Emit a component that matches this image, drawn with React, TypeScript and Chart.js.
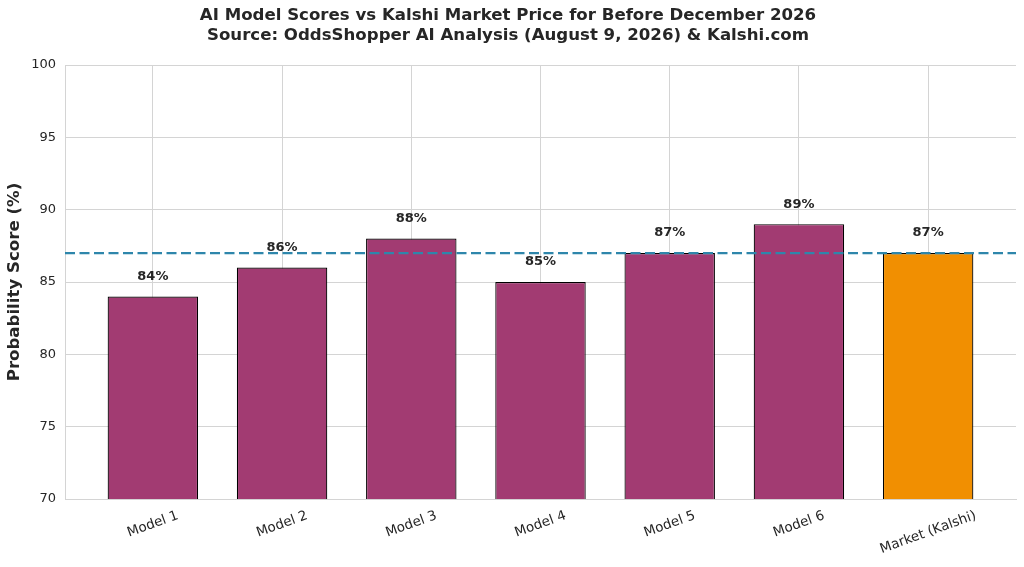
import { useEffect, useRef } from "react"
import { Chart, registerables } from "chart.js"

Chart.register(...registerables)

// data
const categories = ["Model 1", "Model 2", "Model 3", "Model 4", "Model 5", "Model 6", "Market (Kalshi)"]
const scores = [84, 86, 88, 85, 87, 89, 87]
const marketPrice = 87
const yTicks = [70, 75, 80, 85, 90, 95, 100]
const titleLines = [
  "AI Model Scores vs Kalshi Market Price for Before December 2026",
  "Source: OddsShopper AI Analysis (August 9, 2026) & Kalshi.com",
]

const FONT = "'DejaVu Sans', sans-serif"
const TEXT = "#262626"
const MODEL_COLOR = "#A23B72"
const MARKET_COLOR = "#F18F01"
const LINE_COLOR = "#2E86AB"
const GRID = "#d4d4d4"

// value labels, market line and rotated category labels
const overlayPlugin = {
  id: "overlay",
  afterDatasetsDraw(chart: any) {
    const { ctx, chartArea, scales } = chart
    const x = scales.x
    const y = scales.y

    // market reference line
    const ly = y.getPixelForValue(marketPrice)
    ctx.save()
    ctx.strokeStyle = LINE_COLOR
    ctx.lineWidth = 2.4
    ctx.setLineDash([10, 4.5])
    ctx.beginPath()
    ctx.moveTo(chartArea.left, ly)
    ctx.lineTo(chartArea.right, ly)
    ctx.stroke()
    ctx.restore()

    // value labels above bars
    ctx.save()
    ctx.fillStyle = TEXT
    ctx.font = `bold 13px ${FONT}`
    ctx.textAlign = "center"
    ctx.textBaseline = "bottom"
    scores.forEach((v, i) => {
      ctx.fillText(`${v}%`, x.getPixelForValue(i), y.getPixelForValue(v + 1) + 1)
    })
    ctx.restore()
  },
  afterDraw(chart: any) {
    const { ctx, chartArea, scales } = chart
    const x = scales.x
    const angle = (20 * Math.PI) / 180
    ctx.save()
    ctx.fillStyle = TEXT
    ctx.font = `13.5px ${FONT}`
    ctx.textAlign = "center"
    ctx.textBaseline = "middle"
    categories.forEach((label, i) => {
      const w = ctx.measureText(label).width
      const h = 15.5
      const boxH = w * Math.sin(angle) + h * Math.cos(angle)
      const cx = x.getPixelForValue(i)
      const cy = chartArea.bottom + 9 + boxH / 2
      ctx.save()
      ctx.translate(cx, cy)
      ctx.rotate(-angle)
      ctx.fillText(label, 0, 0)
      ctx.restore()
    })
    ctx.restore()
  },
}

export default function App() {
  const canvasRef = useRef<HTMLCanvasElement>(null)

  useEffect(() => {
    if (!canvasRef.current) return
    const chart = new Chart(canvasRef.current, {
      type: "bar",
      data: {
        datasets: [
          {
            label: "Probability Score",
            data: scores.map((v, i) => ({ x: i, y: v })),
            backgroundColor: categories.map((c) => (c.startsWith("Market") ? MARKET_COLOR : MODEL_COLOR)),
            borderColor: "#000000",
            borderWidth: 1.2,
            borderSkipped: false,
            barPercentage: 0.7,
            categoryPercentage: 1,
          },
        ],
      },
      options: {
        responsive: false,
        animation: false,
        devicePixelRatio: 1,
        layout: { padding: { left: 0, right: 8, top: 0, bottom: 0 } },
        plugins: {
          legend: { display: false },
          tooltip: { enabled: false },
          title: {
            display: true,
            text: titleLines,
            color: TEXT,
            font: { family: FONT, size: 16.6, weight: "bold", lineHeight: 1.2 },
            padding: { top: 6, bottom: 19.2 },
          },
        },
        scales: {
          x: {
            type: "linear",
            min: -0.68,
            max: 6.68,
            offset: false,
            afterBuildTicks: (scale: any) => {
              scale.ticks = categories.map((_, i) => ({ value: i }))
            },
            afterFit: (scale: any) => {
              scale.height = 68
            },
            ticks: { display: false },
            grid: { color: GRID, lineWidth: 1, drawTicks: false, offset: false },
            border: { display: true, color: GRID, width: 1 },
          },
          y: {
            min: 70,
            max: 100,
            afterBuildTicks: (scale: any) => {
              scale.ticks = yTicks.map((v) => ({ value: v }))
            },
            afterFit: (scale: any) => {
              scale.width = 65
            },
            ticks: {
              color: TEXT,
              font: { family: FONT, size: 13 },
              padding: 9,
            },
            grid: { color: GRID, lineWidth: 1, drawTicks: false },
            border: { display: true, color: GRID, width: 1 },
            title: {
              display: true,
              text: "Probability Score (%)",
              color: TEXT,
              font: { family: FONT, size: 16.6, weight: "bold", lineHeight: 1.2 },
              padding: { top: 5, bottom: 0 },
            },
          },
        },
      },
      plugins: [overlayPlugin],
    })
    return () => chart.destroy()
  }, [])

  return (
    <div style={{ position: "absolute", left: 0, top: 0, width: 1024, height: 567, background: "#ffffff" }}>
      <canvas ref={canvasRef} width={1024} height={567} />
    </div>
  )
}
